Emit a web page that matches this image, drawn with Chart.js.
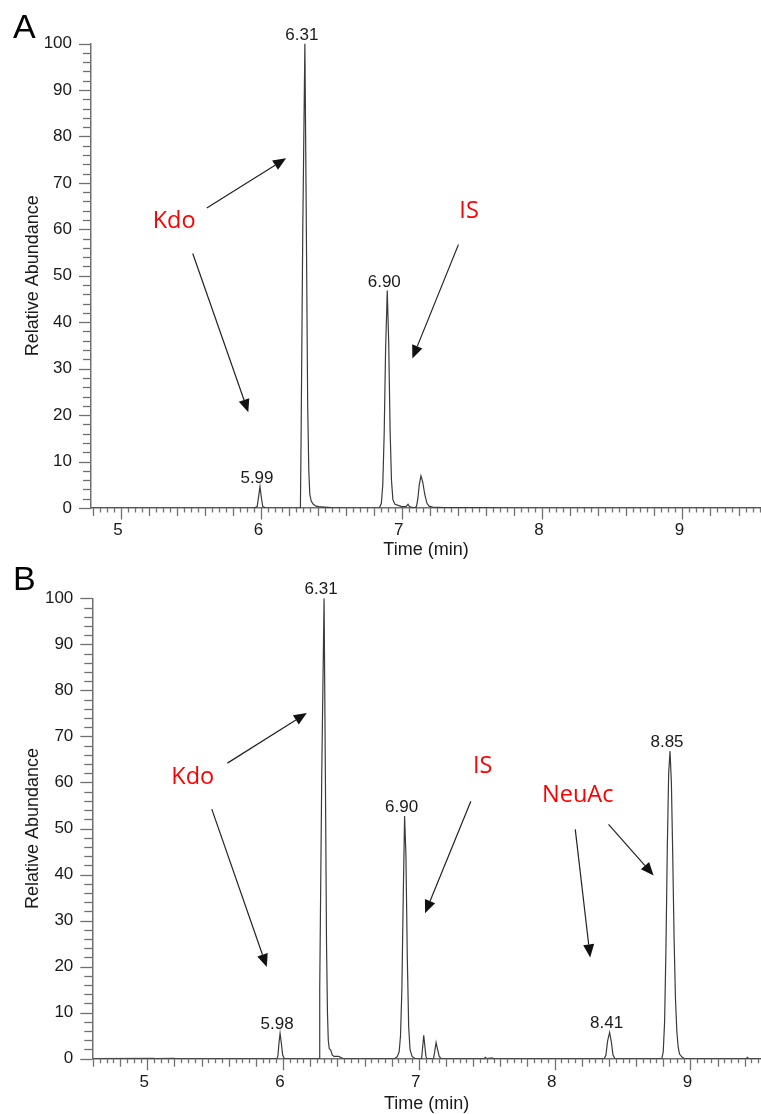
<!DOCTYPE html>
<html>
<head>
<meta charset="utf-8">
<script src="https://cdn.jsdelivr.net/npm/chart.js@4.4.1/dist/chart.umd.min.js"></script>
<style>
  html, body { margin: 0; padding: 0; background: #fff; }
  #wrap { position: relative; width: 761px; height: 1114px; }
  canvas { position: absolute; left: 0; }
  #chartA { top: 0; }
  #chartB { top: 555px; }
</style>
</head>
<body>
<div id="wrap">
  <canvas id="chartA" width="761" height="560"></canvas>
  <canvas id="chartB" width="761" height="559"></canvas>
</div>
<script>
const timeA = [4.79, 5.50, 5.95, 5.97, 5.98, 5.99, 6.00, 6.01, 6.03,
  6.278, 6.283, 6.295, 6.31, 6.32, 6.33, 6.338, 6.345, 6.355, 6.37, 6.39, 6.41, 6.45, 6.50, 6.60,
  6.84, 6.855, 6.865, 6.875, 6.885, 6.897, 6.907, 6.917, 6.927, 6.937, 6.952, 6.98, 7.00,
  7.03, 7.045, 7.055, 7.09, 7.105, 7.115, 7.125, 7.137, 7.15, 7.165, 7.18, 7.195, 7.22,
  7.30, 7.50, 7.80, 9.56];
const abundA = [0, 0, 0, 0.3, 2.4, 4.6, 2.2, 0.3, 0,
  0, 15, 60, 100, 62, 22, 8, 3, 1.5, 0.8, 0.4, 0.3, 0.2, 0.1, 0,
  0, 1, 5, 16, 34, 46.8, 36, 17, 6, 1.8, 0.8, 0.5, 0.3,
  0.3, 0.8, 0.3, 0, 0.3, 2, 5, 6.9, 5.5, 2.8, 1, 0.4, 0.2,
  0.1, 0.1, 0, 0];

const timeB = [4.60, 5.05, 5.06, 5.20, 5.21, 5.955, 5.962, 5.97, 5.978, 5.988, 5.997, 6.01,
  6.265, 6.27, 6.285, 6.302, 6.312, 6.32, 6.327, 6.333, 6.34, 6.352, 6.362, 6.375, 6.41, 6.43, 6.45,
  6.82, 6.84, 6.855, 6.865, 6.875, 6.885, 6.895, 6.905, 6.915, 6.925, 6.935, 6.95, 6.97,
  7.02, 7.028, 7.036, 7.044, 7.052, 7.06, 7.108, 7.117, 7.127, 7.138, 7.15, 7.165,
  7.48, 7.49, 7.50, 7.54, 7.55,
  8.365, 8.378, 8.39, 8.405, 8.418, 8.43, 8.445,
  8.79, 8.80, 8.81, 8.82, 8.83, 8.84, 8.85, 8.86, 8.87, 8.88, 8.89, 8.90, 8.91, 8.92, 8.94, 8.96,
  9.41, 9.42, 9.43, 9.52];
const abundB = [0, 0.1, 0, 0.1, 0, 0, 0.6, 3.4, 5.5, 3.2, 0.8, 0,
  0, 15, 62, 100, 60, 25, 10, 4, 2.2, 1.8, 0.8, 0.5, 0.5, 0.2, 0,
  0, 0.4, 1.5, 5, 15, 35, 52.7, 44, 22, 7, 2, 0.5, 0.1,
  0, 2.5, 5.1, 2.8, 0.5, 0, 0, 1.6, 3.5, 2, 0.5, 0,
  0, 0.3, 0, 0.2, 0,
  0, 0.8, 3.8, 5.7, 3.6, 0.8, 0,
  0, 1.5, 8, 24, 46, 62, 66.8, 60, 44, 26, 13, 6, 2.5, 1, 0.3, 0,
  0, 0.3, 0, 0];

// étiquettes des pics (temps de rétention)
const peakTimesA = [5.99, 6.31, 6.897];
const peakHeightsA = [4.6, 100, 46.8];
const peakTextA = ['5.99', '6.31', '6.90'];
const peakTimesB = [5.978, 6.302, 6.895, 8.405, 8.85];
const peakHeightsB = [5.5, 100, 52.7, 5.7, 66.8];
const peakTextB = ['5.98', '6.31', '6.90', '8.41', '8.85'];

// graduations
const xTickLabels = [5, 6, 7, 8, 9];
const yTickLabels = [0, 10, 20, 30, 40, 50, 60, 70, 80, 90, 100];

// annotations en rouge + flèches (coordonnées en unités des axes)
const notesA = [['Kdo', 5.378, 61.8], ['IS', 7.48, 63.9]];
const arrowsA = [[5.611, 64.6, 6.176, 75.3], [5.511, 54.8, 5.907, 20.6], [7.404, 56.7, 7.076, 32.2]];
const notesB = [['Kdo', 5.335, 61.2], ['IS', 7.47, 63.4], ['NeuAc', 8.17, 57.3]];
const arrowsB = [[5.59, 64.2, 6.175, 75.1], [5.475, 54.2, 5.88, 19.9], [7.383, 55.9, 7.046, 31.6],
  [8.152, 49.8, 8.262, 22.0], [8.397, 50.9, 8.729, 39.8]];

const AXIS_COLOR = '#707070';
const TEXT_COLOR = '#1a1a1a';
const FONT = "'Liberation Sans', Arial, sans-serif";

const near = (v, step) => Math.abs(v / step - Math.round(v / step)) < 1e-6;

// --- plugin : petites graduations, étiquettes de pics, annotations ---
const decorPlugin = {
  id: 'decor',
  afterDraw(chart, args, opts) {
    const { ctx, chartArea } = chart;
    const x = chart.scales.x, y = chart.scales.y;
    ctx.save();
    ctx.strokeStyle = AXIS_COLOR;
    ctx.lineWidth = 1.3;
    x.ticks.forEach(tk => {
      const px = Math.round(x.getPixelForValue(tk.value)) + 0.5;
      let len = 4.5;
      if (near(tk.value, 1)) len = 11.5;
      else if (near(tk.value, 0.2)) len = 8;
      ctx.beginPath();
      ctx.moveTo(px, chartArea.bottom);
      ctx.lineTo(px, chartArea.bottom + len);
      ctx.stroke();
    });
    y.ticks.forEach(tk => {
      const py = Math.round(y.getPixelForValue(tk.value)) + 0.5;
      const len = yTickLabels.includes(tk.value) ? 12 : 8;
      ctx.beginPath();
      ctx.moveTo(chartArea.left, py);
      ctx.lineTo(chartArea.left - len, py);
      ctx.stroke();
    });

    // étiquettes des pics
    ctx.fillStyle = TEXT_COLOR;
    ctx.font = '17px ' + FONT;
    ctx.textAlign = 'center';
    ctx.textBaseline = 'alphabetic';
    opts.peakTimes.forEach((t, i) => {
      ctx.fillText(opts.peakText[i], x.getPixelForValue(t) - 3, y.getPixelForValue(opts.peakHeights[i]) - 4);
    });

    // flèches
    ctx.strokeStyle = '#222';
    ctx.fillStyle = '#111';
    ctx.lineWidth = 1.2;
    opts.arrows.forEach(a => {
      const x1 = x.getPixelForValue(a[0]), y1 = y.getPixelForValue(a[1]);
      const x2 = x.getPixelForValue(a[2]), y2 = y.getPixelForValue(a[3]);
      const ang = Math.atan2(y2 - y1, x2 - x1);
      const hl = 13, hw = 5.5;
      const bx = x2 - hl * Math.cos(ang), by = y2 - hl * Math.sin(ang);
      ctx.beginPath();
      ctx.moveTo(x1, y1);
      ctx.lineTo(bx, by);
      ctx.stroke();
      ctx.beginPath();
      ctx.moveTo(x2, y2);
      ctx.lineTo(bx + hw * Math.sin(ang), by - hw * Math.cos(ang));
      ctx.lineTo(bx - hw * Math.sin(ang), by + hw * Math.cos(ang));
      ctx.closePath();
      ctx.fill();
    });

    // textes rouges
    ctx.fillStyle = '#ff0000';
    ctx.font = "23.5px 'Open Sans', 'Noto Sans', sans-serif";
    ctx.textBaseline = 'middle';
    opts.notes.forEach(n => {
      ctx.fillText(n[0], x.getPixelForValue(n[1]), y.getPixelForValue(n[2]));
    });

    // lettre du panneau
    ctx.fillStyle = '#000';
    ctx.font = '34px ' + FONT;
    ctx.textAlign = 'left';
    ctx.textBaseline = 'alphabetic';
    ctx.fillText(opts.letter, 13, opts.letterY);
    ctx.restore();
  }
};

function makeChart(id, times, values, cfg) {
  const points = times.map((t, i) => ({ x: t, y: values[i] }));
  return new Chart(document.getElementById(id), {
    type: 'line',
    data: {
      datasets: [{
        data: points,
        borderColor: '#3a3a3a',
        borderWidth: 1.2,
        pointRadius: 0,
        tension: 0,
        fill: false
      }]
    },
    options: {
      responsive: false,
      animation: false,
      devicePixelRatio: 1,
      events: [],
      layout: { padding: { top: cfg.top, left: 0, right: 0, bottom: 0 } },
      plugins: {
        legend: { display: false },
        tooltip: { enabled: false },
        decor: cfg.decor
      },
      scales: {
        x: {
          type: 'linear',
          min: cfg.xmin,
          max: cfg.xmax,
          afterBuildTicks: s => {
            s.ticks = [];
            for (let k = Math.ceil(cfg.xmin / 0.05 - 1e-6); k * 0.05 <= cfg.xmax + 1e-9; k++) {
              s.ticks.push({ value: +(k * 0.05).toFixed(2) });
            }
          },
          afterFit: s => {
            s.height = cfg.xAxisHeight;
            s.paddingLeft = 0;
            s.paddingRight = 0;
          },
          grid: { display: false, drawTicks: false },
          border: { display: true, color: AXIS_COLOR, width: 1.5 },
          ticks: {
            autoSkip: false,
            maxRotation: 0,
            minRotation: 0,
            padding: cfg.xTickPad,
            labelOffset: -3,
            color: TEXT_COLOR,
            font: { family: FONT, size: 17 },
            callback: v => (xTickLabels.some(l => Math.abs(l - v) < 1e-6) ? String(Math.round(v)) : '')
          },
          title: {
            display: true,
            text: 'Time (min)',
            color: TEXT_COLOR,
            font: { family: FONT, size: 18 },
            padding: { top: 0, bottom: -1 }
          }
        },
        y: {
          min: 0,
          max: 100,
          afterFit: s => {
            s.width = cfg.yAxisWidth;
            s.paddingTop = 0;
            s.paddingBottom = 0;
          },
          grid: { display: false, drawTicks: false },
          border: { display: true, color: AXIS_COLOR, width: 1.5 },
          ticks: {
            stepSize: 2,
            autoSkip: false,
            padding: 19,
            color: TEXT_COLOR,
            font: { family: FONT, size: 17 },
            callback: v => (yTickLabels.includes(v) ? String(v) : '')
          },
          title: {
            display: true,
            text: 'Relative Abundance',
            color: TEXT_COLOR,
            font: { family: FONT, size: 18 },
            padding: { top: 22, bottom: 0 }
          }
        }
      }
    },
    plugins: [decorPlugin]
  });
}

makeChart('chartA', timeA, abundA, {
  top: 43.5, xmin: 4.786, xmax: 9.56, xAxisHeight: 52, yAxisWidth: 91, xTickPad: 12,
  decor: { letter: 'A', letterY: 38, peakTimes: peakTimesA, peakHeights: peakHeightsA, peakText: peakTextA,
           notes: notesA, arrows: arrowsA }
});
makeChart('chartB', timeB, abundB, {
  top: 43.3, xmin: 4.595, xmax: 9.52, xAxisHeight: 55.3, yAxisWidth: 92.3, xTickPad: 13,
  decor: { letter: 'B', letterY: 35, peakTimes: peakTimesB, peakHeights: peakHeightsB, peakText: peakTextB,
           notes: notesB, arrows: arrowsB }
});
</script>
</body>
</html>
